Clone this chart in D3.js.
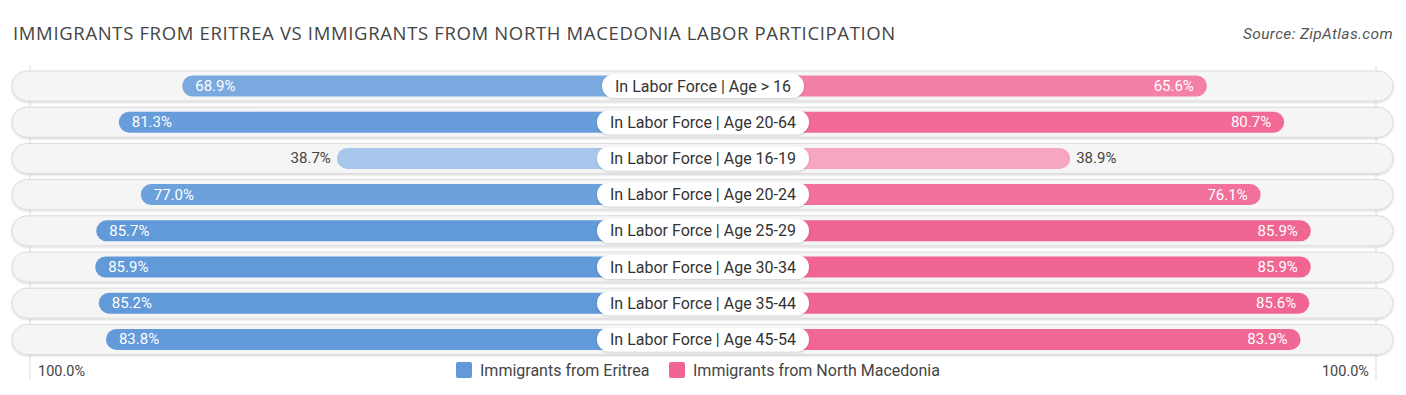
<!DOCTYPE html>
<html>
<head>
<meta charset="utf-8">
<script src="https://cdn.jsdelivr.net/npm/d3@7"></script>
<style>
  body { margin: 0; background: #fff; }
  text { font-family: Roboto, "Noto Sans", sans-serif; }
</style>
</head>
<body>
<svg id="chart"></svg>
<script>
const categories = [
  "In Labor Force | Age > 16",
  "In Labor Force | Age 20-64",
  "In Labor Force | Age 16-19",
  "In Labor Force | Age 20-24",
  "In Labor Force | Age 25-29",
  "In Labor Force | Age 30-34",
  "In Labor Force | Age 35-44",
  "In Labor Force | Age 45-54"
];
const eritrea = [68.9, 81.3, 38.7, 77.0, 85.7, 85.9, 85.2, 83.8];
const macedonia = [65.6, 80.7, 38.9, 76.1, 85.9, 85.9, 85.6, 83.9];
const seriesNames = ["Immigrants from Eritrea", "Immigrants from North Macedonia"];
const axisLabels = ["100.0%", "100.0%"];

const width = 1406;
const height = 395;
const cx = 703;

const svg = d3.select("#chart").attr("width", width).attr("height", height);

// Title + source
svg.append("text")
  .attr("x", 13).attr("y", 40)
  .style("font-family", "'Open Sans', sans-serif")
  .style("font-size", "18.5px")
  .style("letter-spacing", "0.65px")
  .style("fill", "#444")
  .text("IMMIGRANTS FROM ERITREA VS IMMIGRANTS FROM NORTH MACEDONIA LABOR PARTICIPATION");

svg.append("text")
  .attr("x", 1393).attr("y", 39)
  .attr("text-anchor", "end")
  .style("font-size", "15.5px")
  .style("letter-spacing", "0.35px")
  .style("font-style", "italic")
  .style("fill", "#555")
  .text("Source: ZipAtlas.com");

// Scales
const y = d3.scalePoint().domain(categories).range([86, 339.4]);
const xLeft = d3.scaleLinear().domain([0, 100]).range([cx - 168, cx - 680]);
const xRight = d3.scaleLinear().domain([0, 100]).range([cx + 168, cx + 680]);

const blue = d3.scaleLinear().domain([35, 85]).range(["#aecbee", "#6199d9"]).clamp(true);
const pink = d3.scaleLinear().domain([35, 85]).range(["#f8aac5", "#f06592"]).clamp(true);

// gridlines at 100%
[xLeft(100) + 7, xRight(100) - 7].forEach(gx => {
  svg.append("line")
    .attr("x1", gx).attr("x2", gx)
    .attr("y1", 66).attr("y2", 380)
    .attr("stroke", "#ddd").attr("stroke-width", 1);
});

const defs = svg.append("defs");
const shadow = defs.append("filter").attr("id", "sh").attr("x", "-5%").attr("y", "-30%").attr("width", "110%").attr("height", "160%");
shadow.append("feDropShadow").attr("dx", 0).attr("dy", 1).attr("stdDeviation", 1).attr("flood-color", "#000").attr("flood-opacity", 0.18);

const rows = svg.selectAll(".row")
  .data(categories.map((c, i) => ({ c, l: eritrea[i], r: macedonia[i] })))
  .enter().append("g")
  .attr("class", "row")
  .attr("transform", d => `translate(0,${y(d.c)})`);

// Row background
rows.append("rect")
  .attr("x", 12).attr("y", -15)
  .attr("width", 1381).attr("height", 30)
  .attr("rx", 15)
  .attr("fill", "#f5f5f5")
  .attr("stroke", "#dcdcdc")
  .attr("stroke-width", 1)
  .attr("filter", "url(#sh)");

// Left bars
rows.append("rect")
  .attr("x", d => xLeft(d.l))
  .attr("y", -10.5)
  .attr("width", d => cx - xLeft(d.l))
  .attr("height", 21)
  .attr("rx", 10.5)
  .attr("fill", d => blue(d.l));

// Right bars
rows.append("rect")
  .attr("x", cx)
  .attr("y", -10.5)
  .attr("width", d => xRight(d.r) - cx)
  .attr("height", 21)
  .attr("rx", 10.5)
  .attr("fill", d => pink(d.r));

// Value labels
const inside = v => v > 50;
rows.append("text")
  .attr("x", d => inside(d.l) ? xLeft(d.l) + 13 : xLeft(d.l) - 6)
  .attr("y", 5)
  .attr("text-anchor", d => inside(d.l) ? "start" : "end")
  .style("font-size", "15px")
  .style("fill", d => inside(d.l) ? "#fff" : "#444")
  .text(d => d.l.toFixed(1) + "%");

rows.append("text")
  .attr("x", d => inside(d.r) ? xRight(d.r) - 13 : xRight(d.r) + 6)
  .attr("y", 5)
  .attr("text-anchor", d => inside(d.r) ? "end" : "start")
  .style("font-size", "15px")
  .style("fill", d => inside(d.r) ? "#fff" : "#444")
  .text(d => d.r.toFixed(1) + "%");

// Center labels
rows.each(function (d) {
  const g = d3.select(this);
  const t = g.append("text")
    .attr("x", cx).attr("y", 5.5)
    .attr("text-anchor", "middle")
    .style("font-size", "16px")
    .style("fill", "#333")
    .text(d.c);
  const w = t.node().getComputedTextLength() + 26;
  g.insert("rect", "text")
    .attr("x", cx - w / 2).attr("y", -12)
    .attr("width", w).attr("height", 24)
    .attr("rx", 12)
    .attr("fill", "#fff")
    .attr("filter", "url(#sh)");
});

// Axis labels
svg.append("text")
  .attr("x", 38).attr("y", 376)
  .style("font-size", "14.5px").style("fill", "#444")
  .text(axisLabels[0]);
svg.append("text")
  .attr("x", 1369).attr("y", 376)
  .attr("text-anchor", "end")
  .style("font-size", "14.5px").style("fill", "#444")
  .text(axisLabels[1]);

// Legend
const legend = svg.append("g");
const legendItems = [
  { name: seriesNames[0], color: "#6199d9", x: 456 },
  { name: seriesNames[1], color: "#f06592", x: 669 }
];
legendItems.forEach(it => {
  legend.append("rect")
    .attr("x", it.x).attr("y", 362)
    .attr("width", 16).attr("height", 16)
    .attr("rx", 2)
    .attr("fill", it.color);
  legend.append("text")
    .attr("x", it.x + 24).attr("y", 376)
    .style("font-size", "16px").style("fill", "#444")
    .text(it.name);
});
</script>
</body>
</html>
